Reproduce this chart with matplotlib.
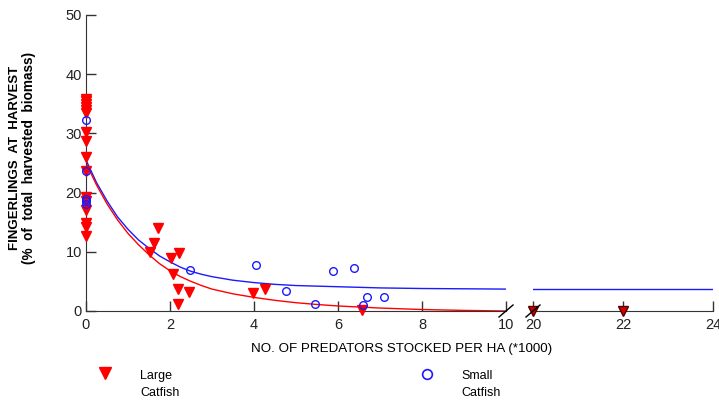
import numpy as np
import matplotlib.pyplot as plt

plt.rcParams['font.family'] = ['Liberation Sans', 'DejaVu Sans']

## Donnees

# Large catfish (triangles rouges)
large_x = [0, 0, 0, 0, 0, 0, 0, 0, 0, 0, 0, 0, 0, 0, 0, 0,
           1.52, 1.61, 1.72, 2.02, 2.06, 2.21, 2.2, 2.2, 2.45,
           3.98, 4.26, 6.58]
large_y = [35.8, 35.4, 34.9, 34.4, 34.0, 30.2, 28.7, 26.0, 23.6, 19.3, 18.5, 17.1, 14.9, 14.2, 12.6, 33.5,
           10.0, 11.5, 14.0, 8.9, 6.3, 9.8, 3.7, 1.1, 3.2,
           3.0, 3.7, 0.2]
large_x2 = [20, 22]
large_y2 = [0, 0]

# Small catfish (cercles bleus)
small_x = [0, 0, 0, 0, 0, 2.48, 4.04, 4.76, 5.45, 5.89, 6.38, 6.70, 7.10, 6.59]
small_y = [32.3, 23.6, 19.0, 18.5, 18.0, 6.9, 7.8, 3.4, 1.1, 6.8, 7.2, 2.3, 2.3, 1.0]

# Courbes ajustees (lues point par point)
curve_x = [0, 0.25, 0.5, 0.75, 1, 1.25, 1.5, 1.75, 2, 2.25, 2.5, 2.75, 3,
           3.5, 4, 4.5, 5, 5.5, 6, 7, 8, 9, 10]
blue_y = [25.5, 21.7, 18.6, 15.9, 13.8, 12.0, 10.6, 9.3, 8.3, 7.4, 6.7, 6.2, 5.8,
          5.2, 4.8, 4.5, 4.3, 4.2, 4.1, 3.9, 3.8, 3.75, 3.7]
red_y = [25.0, 21.3, 18.1, 15.4, 13.1, 11.2, 9.5, 8.0, 6.8, 5.8, 5.0, 4.3, 3.7,
         2.9, 2.3, 1.8, 1.4, 1.1, 0.85, 0.5, 0.25, 0.1, 0.0]
blue2_x = [20, 24]
blue2_y = [3.7, 3.7]

ticks1 = [0, 2, 4, 6, 8, 10]
ticks2 = [20, 22, 24]
yticks = [0, 10, 20, 30, 40, 50]

red = '#ff0000'
blue = '#1a1aff'
dark = '#333333'

fig = plt.figure(figsize=(7.19, 4.00), dpi=100)
ax1 = fig.add_axes([86/719, 89/400, 420/719, 296/400])
ax2 = fig.add_axes([533/719, 89/400, 180/719, 296/400])

## Axe gauche (0 - 10)
ax1.plot(curve_x, blue_y, color=blue, lw=1)
ax1.plot(curve_x, red_y, color=red, lw=1)
ax1.plot(large_x, large_y, 'v', color=red, ms=6.5, mec=red, clip_on=False, zorder=4)
ax1.plot(small_x, small_y, 'o', mfc='none', mec=blue, ms=5.5, mew=1, clip_on=False, zorder=5)
ax1.set_xlim(0, 10)
ax1.set_ylim(0, 50)
ax1.set_xticks(ticks1)
ax1.set_yticks(yticks)
ax1.spines['top'].set_visible(False)
ax1.spines['right'].set_visible(False)
ax1.spines['left'].set_color(dark)
ax1.spines['bottom'].set_color(dark)
ax1.tick_params(direction='in', length=7, width=1, color=dark, labelsize=10.5, labelcolor='#222222')
ax1.tick_params(axis='y', pad=3)
ax1.tick_params(axis='x', pad=5)

## Axe droit (20 - 24)
ax2.plot(blue2_x, blue2_y, color=blue, lw=1)
ax2.plot(large_x2, large_y2, 'v', color='#cc0000', ms=6.5, mec='#550000', clip_on=False, zorder=4)
ax2.set_xlim(20, 24)
ax2.set_ylim(0, 50)
ax2.set_xticks(ticks2)
ax2.set_yticks([])
for s in ['top', 'right', 'left']:
    ax2.spines[s].set_visible(False)
ax2.spines['bottom'].set_color(dark)
ax2.tick_params(direction='in', length=7, width=1, color=dark, labelsize=10.5, labelcolor='#222222', pad=5)

# traits de coupure
for ax, xb in [(ax1, 1.0), (ax2, 0.0)]:
    w = ax.bbox.width
    ax.plot([xb - 7/w, xb + 7/w], [-6/296, 6/296], color='black', lw=1,
            transform=ax.transAxes, clip_on=False, zorder=6)

## Titres des axes
fig.text(15/719, 1 - 158/400, "FINGERLINGS  AT  HARVEST", rotation=90,
         ha='center', va='center', fontsize=9.5, fontweight='bold')
fig.text(29/719, 1 - 158/400, "(%  of  total  harvested  biomass)", rotation=90,
         ha='center', va='center', fontsize=9.8, fontweight='bold')
fig.text(402/719, 1 - 349/400, "NO. OF PREDATORS STOCKED PER HA (*1000)",
         ha='center', va='center', fontsize=9.6)

## Legende
ax1.plot([105/719], [1 - 373/400], 'v', color=red, ms=8, transform=fig.transFigure, clip_on=False)
ax1.plot([427/719], [1 - 374/400], 'o', mfc='none', mec=blue, ms=7, mew=1.2,
         transform=fig.transFigure, clip_on=False)
fig.text(140/719, 1 - 376/400, "Large", ha='left', va='center', fontsize=9)
fig.text(140/719, 1 - 393/400, "Catfish", ha='left', va='center', fontsize=9)
fig.text(461/719, 1 - 376/400, "Small", ha='left', va='center', fontsize=9)
fig.text(461/719, 1 - 393/400, "Catfish", ha='left', va='center', fontsize=9)

fig.savefig("out.png", dpi=100)
